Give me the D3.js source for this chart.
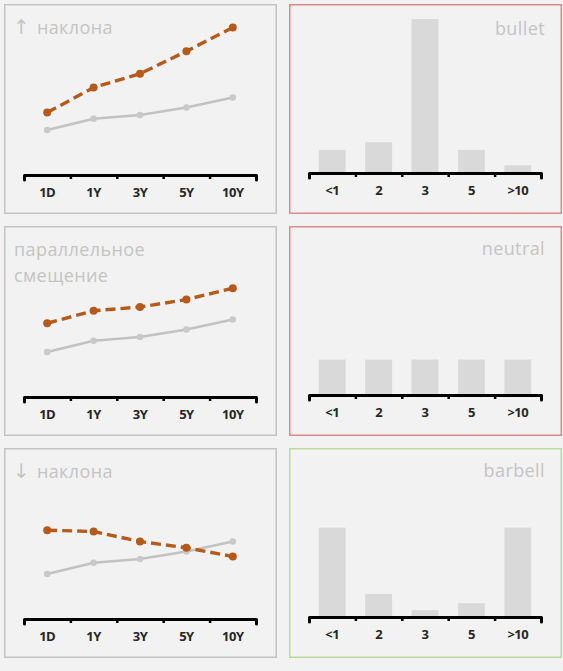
<!DOCTYPE html>
<html>
<head>
<meta charset="utf-8">
<script src="https://cdn.jsdelivr.net/npm/d3@7"></script>
<style>
  html, body { margin: 0; padding: 0; background: #f2f2f2; }
  svg { display: block; }
</style>
</head>
<body>
<div id="chart"></div>
<script>
// curve tenors and duration buckets
const tenors = ["1D", "1Y", "3Y", "5Y", "10Y"];
const buckets = ["<1", "2", "3", "5", ">10"];

// yield curves (grey = current, orange = after the move)
const baseCurve = [1.8, 2.25, 2.4, 2.7, 3.1];
const steepCurve = [2.5, 3.5, 4.05, 4.95, 5.9];
const shiftCurve = [2.95, 3.45, 3.6, 3.9, 4.35];
const flatCurve = [3.55, 3.5, 3.1, 2.85, 2.5];

// portfolio weights by bucket
const bulletWeights = [15, 20, 100, 15, 5];
const neutralWeights = [23, 23, 23, 23, 23];
const barbellWeights = [58, 15, 4.5, 9, 58];

const lineArrows = ["↑", "", "↓"];
const lineTitles = [["наклона"], ["параллельное", "смещение"], ["наклона"]];
const barTitles = ["bullet", "neutral", "barbell"];

const config = {
    "bg": "#f2f2f2",
    "title-color": "#c4c4c4",
    "label-color": "#262626",
    "grey-line": "#c2c2c2",
    "orange": "#b65a1c",
    "bar": "#d9d9d9"
};

const W = 563, H = 671;
const panelW = 273, panelH = 210;
const colX = [4, 289];
const rowY = [4, 226, 448];

const svg = d3.select("#chart").append("svg")
    .attr("width", W)
    .attr("height", H);

svg.append("rect").attr("width", W).attr("height", H).attr("fill", config.bg);

const axisLeft = 20, axisRight = 252;

function drawAxis(g, cats, axisY) {
    const edges = d3.scaleLinear().domain([0, cats.length]).range([axisLeft, axisRight]);
    const band = d3.scaleBand().domain(cats).range([axisLeft, axisRight]);

    const ax = g.append("g")
        .attr("transform", `translate(0, ${axisY})`)
        .call(d3.axisBottom(edges)
            .tickValues(d3.range(1, cats.length))
            .tickSize(4)
            .tickSizeOuter(5)
            .tickFormat(""));
    ax.select(".domain")
        .attr("stroke", "#000")
        .attr("stroke-width", 3)
        .attr("stroke-linecap", "round")
        .attr("stroke-linejoin", "round");
    ax.selectAll(".tick line").attr("stroke", "#000").attr("stroke-width", 2.5);

    const lab = g.append("g")
        .attr("transform", `translate(0, ${axisY + 13})`)
        .call(d3.axisBottom(band).tickSize(0).tickPadding(0));
    lab.select(".domain").remove();
    lab.selectAll("text")
        .attr("fill", config["label-color"])
        .style("font-family", "'Open Sans', sans-serif")
        .style("font-weight", "bold")
        .style("font-size", "13px")
        .style("letter-spacing", "-0.5px");
    return band;
}

function panelFrame(x, y, stroke) {
    const g = svg.append("g").attr("transform", `translate(${x}, ${y})`);
    g.append("rect")
        .attr("x", 0.75).attr("y", 0.75)
        .attr("width", panelW - 1.5).attr("height", panelH - 1.5)
        .attr("fill", config.bg)
        .attr("stroke", stroke)
        .attr("stroke-width", 1.5);
    return g;
}

const titleStyle = sel => sel
    .attr("fill", config["title-color"])
    .style("font-family", "'Open Sans', sans-serif")
    .style("font-size", "18px")
    .style("letter-spacing", "0.4px");

/* line panels */
const lineAxisY = 171;
const y = d3.scaleLinear().domain([0, 7]).range([lineAxisY, lineAxisY - 175]);
const movedCurves = [steepCurve, shiftCurve, flatCurve];

movedCurves.forEach((moved, i) => {
    const g = panelFrame(colX[0], rowY[i], "#c3c3c3");
    const band = drawAxis(g, tenors, lineAxisY);
    const cx = d => band(d) + band.bandwidth() / 2;

    const t = g.append("text").attr("x", 10).attr("y", 30).call(titleStyle);
    lineTitles[i].forEach((s, k) => {
        const sp = t.append("tspan").attr("dy", k === 0 ? 0 : 26);
        if (k === 0 && lineArrows[i]) {
            sp.attr("x", 9)
                .style("font-family", "'DejaVu Sans', sans-serif")
                .style("font-size", "20px")
                .text(lineArrows[i] + " ");
            t.append("tspan").text(s);
        } else {
            sp.attr("x", 10).text(s);
        }
    });

    const line = d3.line().x(d => cx(d.t)).y(d => y(d.v));
    const base = tenors.map((t, k) => ({t: t, v: baseCurve[k]}));
    const next = tenors.map((t, k) => ({t: t, v: moved[k]}));

    g.append("path").datum(base)
        .attr("d", line)
        .attr("fill", "none")
        .attr("stroke", config["grey-line"])
        .attr("stroke-width", 2.6);
    g.selectAll(".pg").data(base).enter().append("circle")
        .attr("cx", d => cx(d.t)).attr("cy", d => y(d.v))
        .attr("r", 3.3)
        .attr("fill", "#c9c9c9");

    g.append("path").datum(next)
        .attr("d", line)
        .attr("fill", "none")
        .attr("stroke", config.orange)
        .attr("stroke-width", 3.4)
        .attr("stroke-dasharray", "10,5");
    g.selectAll(".po").data(next).enter().append("circle")
        .attr("cx", d => cx(d.t)).attr("cy", d => y(d.v))
        .attr("r", 4)
        .attr("fill", config.orange);
});

/* bar panels */
const barAxisY = 169;
const yBar = d3.scaleLinear().domain([0, 100]).range([barAxisY, barAxisY - 154]);
const weightSets = [bulletWeights, neutralWeights, barbellWeights];
const barBorders = ["#dc8a8a", "#dc8a8a", "#b9da9c"];

weightSets.forEach((w, i) => {
    const g = panelFrame(colX[1], rowY[i], barBorders[i]);
    const band = d3.scaleBand().domain(buckets).range([axisLeft, axisRight]).paddingInner(0.42).paddingOuter(0.21);

    g.append("text")
        .attr("x", 256).attr("y", i === 0 ? 31 : 29)
        .attr("text-anchor", "end")
        .text(barTitles[i])
        .call(titleStyle);

    g.selectAll(".bar").data(buckets).enter().append("rect")
        .attr("x", d => band(d))
        .attr("width", band.bandwidth())
        .attr("y", (d, k) => yBar(w[k]))
        .attr("height", (d, k) => barAxisY - yBar(w[k]))
        .attr("fill", config.bar);

    drawAxis(g, buckets, barAxisY);
});
</script>
</body>
</html>
